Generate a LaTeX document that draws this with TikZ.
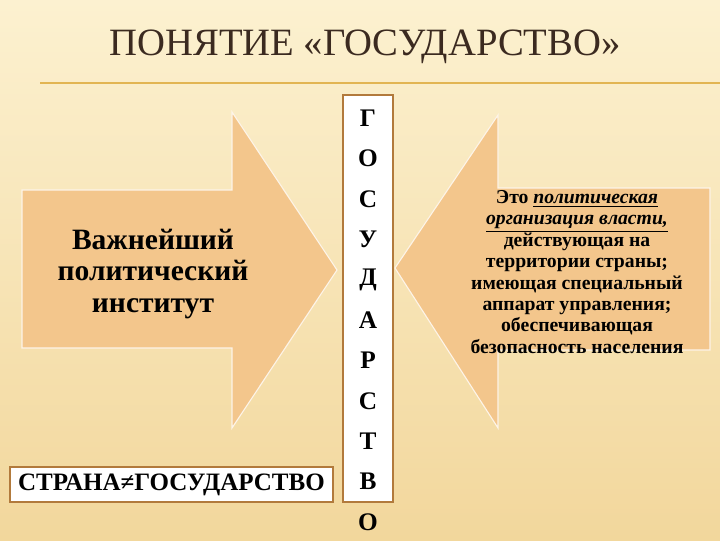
\documentclass[tikz,border=0pt]{standalone}
\usepackage{fontspec}
\setmainfont{Liberation Serif}
\usetikzlibrary{positioning}
\definecolor{peach}{HTML}{F3C68C}
\definecolor{creamtop}{HTML}{FCF1D0}
\definecolor{creambot}{HTML}{F2D79C}
\definecolor{boxbrown}{HTML}{B27A3C}
\definecolor{titlebrown}{HTML}{3B2A20}
\definecolor{rulegold}{HTML}{E2B552}
\newcommand{\ulitalic}[1]{\smash{\underline{\textit{#1}}}}
\begin{document}
\begin{tikzpicture}[x=0.025cm,y=-0.025cm,
    arrowshape/.style={fill=peach,draw=white!80!peach,line width=0.8pt},
    framebox/.style={draw=boxbrown,fill=white,line width=1.2pt},
    letter/.style={font=\bfseries\fontsize{18}{18}\selectfont,inner sep=0pt}]
        \useasboundingbox (0,0) rectangle (720,540);
        \shade[top color=creamtop,bottom color=creambot] (0,0) rectangle (720,540);
        % title and rule
        \node[font=\fontsize{27.5}{27.5}\selectfont,text=titlebrown] (title) at (365,47) {ПОНЯТИЕ «ГОСУДАРСТВО»};
        \coordinate (ruleL) at (40,83);
        \coordinate (ruleR) at (720,83);
        \draw[rulegold,line width=1.5pt] (ruleL) -- (ruleR);
        % arrows
        \draw[arrowshape] (22,190) -- (232,190) -- (232,112) -- (337,270) -- (232,428) -- (232,348) -- (22,348) -- cycle;
        \draw[arrowshape] (710,188) -- (498,188) -- (498,115) -- (395,268) -- (498,428) -- (498,350) -- (710,350) -- cycle;
        \node[align=center,font=\bfseries\fontsize{21}{22.7}\selectfont] (inst) at (153,274) {Важнейший\\политический\\институт};
        \node[align=center,font=\bfseries\fontsize{14}{15.2}\selectfont] (defn) at (577,272)
            {Это \ulitalic{политическая}\\ \ulitalic{организация власти,}\\действующая на\\территории страны;\\имеющая специальный\\аппарат управления;\\обеспечивающая\\безопасность населения};
        % vertical word
        \node[framebox,minimum width=50*0.025cm,minimum height=407*0.025cm] (word) at (368,298.5) {};
        \foreach \ch [count=\i from 0] in {Г,О,С,У,Д,А,Р,С,Т,В,О}
            \node[letter] (l\i) at (368,118+40.4*\i) {\ch};
        % bottom box
        \node[framebox,minimum width=323*0.025cm,minimum height=35*0.025cm,inner sep=0pt,
              font=\bfseries\fontsize{17.8}{17.8}\selectfont] (neq) at (171.5,484.5) {СТРАНА≠ГОСУДАРСТВО};
\end{tikzpicture}
\end{document}
